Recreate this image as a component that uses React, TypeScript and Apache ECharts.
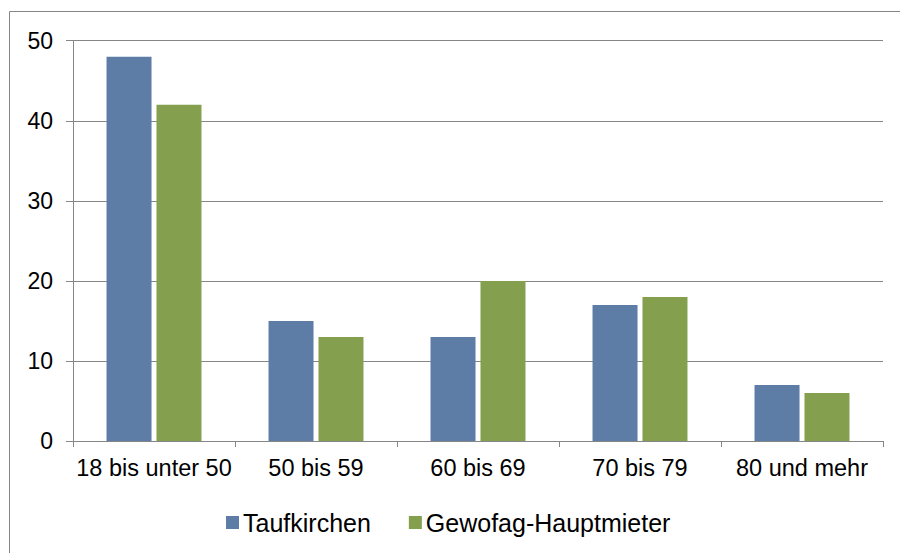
import React, { useEffect, useRef } from "react";
import * as echarts from "echarts";

const categories = ["18 bis unter 50", "50 bis 59", "60 bis 69", "70 bis 79", "80 und mehr"];
const taufkirchen = [48, 15, 13, 17, 7];
const gewofag = [42, 13, 20, 18, 6];
const seriesNames = ["Taufkirchen", "Gewofag-Hauptmieter"];

export default function App() {
  const ref = useRef<HTMLDivElement>(null);
  useEffect(() => {
    if (!ref.current) return;
    const chart = echarts.init(ref.current, null, { renderer: "svg" });
    const font = "Liberation Sans, Arial, sans-serif";
    chart.setOption({
      animation: false,
      backgroundColor: "#ffffff",
      textStyle: { fontFamily: font },
      graphic: [
        {
          type: "rect",
          shape: { x: 9.5, y: 11.5, width: 900, height: 560 },
          style: { fill: "none", stroke: "#868686", lineWidth: 1 },
          silent: true,
        },
      ],
      legend: {
        left: 221,
        top: 505,
        itemWidth: 13,
        itemHeight: 13,
        itemGap: 38,
        icon: "rect",
        textStyle: { fontSize: 25, color: "#000", fontFamily: font, padding: [0, 0, 0, -1] },
        data: seriesNames,
      },
      grid: { left: 73, right: 17, top: 40.7, bottom: 112, containLabel: false },
      xAxis: {
        type: "category",
        data: categories,
        axisLine: { show: true, lineStyle: { color: "#868686", width: 1 } },
        axisTick: { show: true, length: 6, lineStyle: { color: "#868686" } },
        axisLabel: { color: "#000", fontSize: 23.5, margin: 15, fontFamily: font, interval: 0 },
      },
      yAxis: {
        type: "value",
        min: 0,
        max: 50,
        interval: 10,
        axisLine: { show: true, lineStyle: { color: "#868686", width: 1 } },
        axisTick: { show: true, length: 7, lineStyle: { color: "#868686" } },
        axisLabel: { color: "#000", fontSize: 23, margin: 20, fontFamily: font },
        splitLine: { show: true, lineStyle: { color: "#868686", width: 1 } },
      },
      series: [
        {
          name: seriesNames[0],
          type: "bar",
          data: taufkirchen,
          barWidth: 45,
          barGap: "11%",
          itemStyle: { color: "#5D7CA6" },
        },
        {
          name: seriesNames[1],
          type: "bar",
          data: gewofag,
          barWidth: 45,
          barGap: "11%",
          itemStyle: { color: "#84A04E" },
        },
      ],
    });
    return () => chart.dispose();
  }, []);
  return (
    <div
      ref={ref}
      style={{ position: "fixed", left: 0, top: 0, width: 900, height: 553 }}
    />
  );
}
